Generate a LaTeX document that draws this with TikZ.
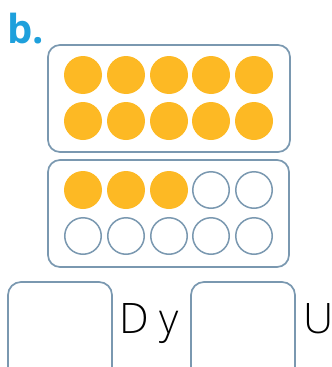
\documentclass[tikz,border=0pt]{standalone}
\usepackage{fontspec}
\newfontfamily\lightfont{Open Sans Light}
\newfontfamily\boldfont{Open Sans Bold}
\definecolor{frameblue}{HTML}{7A98B0}
\definecolor{dotorange}{HTML}{FDB924}
\definecolor{labelblue}{HTML}{1EA0DC}
\begin{document}
\begin{tikzpicture}[x=1pt,y=-1pt,
  frame/.style={draw=frameblue,line width=1.7pt,rounded corners=12pt},
  full/.style={circle,fill=dotorange,minimum size=38pt,inner sep=0pt},
  empty/.style={circle,draw=frameblue,line width=1.5pt,minimum size=36.5pt,inner sep=0pt},
  ansbox/.style={draw=frameblue,line width=1.7pt,rounded corners=13pt},
  word/.style={font=\lightfont\fontsize{42}{42}\selectfont,inner sep=0pt,anchor=base west}]
\clip (0,0) rectangle (332,367);
\useasboundingbox (0,0) rectangle (332,367);
\node[font=\boldfont\fontsize{40}{40}\selectfont,text=labelblue,inner sep=0pt,anchor=base west] (lbl) at (7,43) {b.};
\draw[frame] (48,45) rectangle (290,152);
\draw[frame] (48,160) rectangle (289,267);
\foreach \i/\x in {1/83,2/126,3/169,4/211,5/254}{
  \node[full] (a\i) at (\x,75) {};
  \node[full] (b\i) at (\x,121) {};
  \node[empty] (d\i) at (\x,236) {};
}
\foreach \i/\x in {1/83,2/126,3/169}{ \node[full] (c\i) at (\x,190) {}; }
\foreach \i/\x in {4/211,5/254}{ \node[empty] (c\i) at (\x,190) {}; }
\draw[ansbox] (8,282) rectangle (112,390);
\draw[ansbox] (191,282) rectangle (295,390);
\node[word] (dy) at (119,333) {D y};
\node[word] (u) at (303,333) {U};
\end{tikzpicture}
\end{document}
